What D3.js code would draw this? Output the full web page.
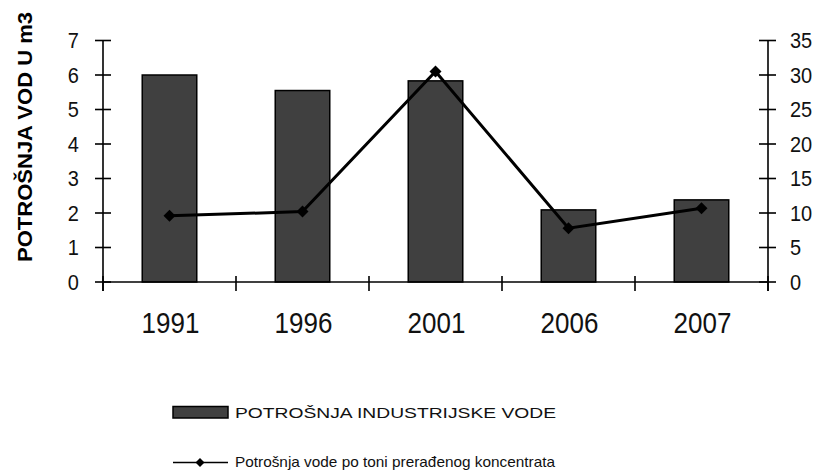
<!DOCTYPE html>
<html>
<head>
<meta charset="utf-8">
<script src="https://cdn.jsdelivr.net/npm/d3@7"></script>
<style>
  html, body { margin: 0; padding: 0; background: #fff; }
  svg { display: block; font-family: Arial, "Liberation Sans", sans-serif; }
</style>
</head>
<body>
<svg id="chart" width="818" height="473"></svg>
<script>
const years = ["1991", "1996", "2001", "2006", "2007"];
const industrialWater = [6.0, 5.55, 5.83, 2.09, 2.38];
const waterPerTon = [9.6, 10.2, 30.5, 7.8, 10.7];
const leftTicks = [0, 1, 2, 3, 4, 5, 6, 7];
const rightTicks = [0, 5, 10, 15, 20, 25, 30, 35];
const yTitle = "POTROŠNJA VOD U m3";
const barLegend = "POTROŠNJA INDUSTRIJSKE VODE";
const lineLegend = "Potrošnja vode po toni prerađenog koncentrata";

const svg = d3.select("#chart");
const pLeft = 103, pRight = 768, pTop = 40.5, pBottom = 282;
const sy = 1.13;

const xCat = d3.scaleBand().domain(years).range([pLeft, pRight]).padding(0);
const xBar = d3.scaleBand().domain(years).range([pLeft, pRight]).paddingInner(0.59).paddingOuter(0.295);
const yL = d3.scaleLinear().domain([0, 7]).range([pBottom, pTop]);
const yR = d3.scaleLinear().domain([0, 35]).range([pBottom, pTop]);

// bars
svg.append("g").selectAll("rect").data(years).join("rect")
  .attr("x", d => xBar(d))
  .attr("y", (d, i) => yL(industrialWater[i]))
  .attr("width", xBar.bandwidth())
  .attr("height", (d, i) => pBottom - yL(industrialWater[i]))
  .attr("fill", "#404040")
  .attr("stroke", "#000")
  .attr("stroke-width", 1.5);

// x axis line and ticks
const ax = svg.append("g").attr("stroke", "#000").attr("stroke-width", 1.6);
ax.append("line").attr("x1", pLeft).attr("x2", pRight).attr("y1", pBottom).attr("y2", pBottom);
const bounds = years.map(d => xCat(d)).concat([pRight]);
ax.selectAll("line.xt").data(bounds).join("line").attr("class", "xt")
  .attr("x1", d => d).attr("x2", d => d)
  .attr("y1", pBottom - 6).attr("y2", pBottom + 9);

// left axis
ax.append("line").attr("x1", pLeft).attr("x2", pLeft).attr("y1", yL(7)).attr("y2", pBottom + 9);
ax.selectAll("line.lt").data(leftTicks).join("line").attr("class", "lt")
  .attr("x1", pLeft - 8).attr("x2", pLeft + 8)
  .attr("y1", d => yL(d)).attr("y2", d => yL(d));
// right axis
ax.append("line").attr("x1", pRight).attr("x2", pRight).attr("y1", yR(35)).attr("y2", pBottom + 9);
ax.selectAll("line.rt").data(rightTicks).join("line").attr("class", "rt")
  .attr("x1", pRight - 9).attr("x2", pRight + 8)
  .attr("y1", d => yR(d)).attr("y2", d => yR(d));

// tick labels
svg.append("g").selectAll("text").data(leftTicks).join("text")
  .attr("transform", d => `translate(79,${yL(d) + 7.5}) scale(1,1.09)`)
  .attr("text-anchor", "end")
  .attr("font-size", 20)
  .attr("fill", "#111")
  .text(d => d);
svg.append("g").selectAll("text").data(rightTicks).join("text")
  .attr("transform", d => `translate(790,${yR(d) + 7.5}) scale(1,1.09)`)
  .attr("text-anchor", "start")
  .attr("font-size", 20)
  .attr("fill", "#111")
  .text(d => d);
svg.append("g").selectAll("text").data(years).join("text")
  .attr("transform", d => `translate(${xCat(d) + xCat.bandwidth() / 2 + 1},333) scale(1,1.14)`)
  .attr("text-anchor", "middle")
  .attr("font-size", 26)
  .attr("fill", "#111")
  .text(d => d);

// y title
svg.append("text")
  .attr("transform", `translate(32,137) rotate(-90) scale(${sy},1)`)
  .attr("text-anchor", "middle")
  .attr("font-size", 19.5)
  .attr("font-weight", "bold")
  .attr("fill", "#000")
  .text(yTitle);

// line
const line = d3.line().x((d, i) => xCat(years[i]) + xCat.bandwidth() / 2).y(d => yR(d));
svg.append("path").datum(waterPerTon)
  .attr("d", line)
  .attr("fill", "none")
  .attr("stroke", "#000")
  .attr("stroke-width", 3);
const diamond = d3.symbol().type(d3.symbolSquare).size(72);
svg.append("g").selectAll("path").data(waterPerTon).join("path")
  .attr("transform", (d, i) => `translate(${xCat(years[i]) + xCat.bandwidth() / 2},${yR(d)}) rotate(45)`)
  .attr("d", diamond)
  .attr("fill", "#000");

// legend
const lg = svg.append("g");
lg.append("rect").attr("x", 173).attr("y", 406.5).attr("width", 55).attr("height", 11.5)
  .attr("fill", "#404040").attr("stroke", "#000").attr("stroke-width", 1.5);
lg.append("text").attr("x", 235).attr("y", 418).attr("font-size", 15)
  .attr("textLength", 321).attr("lengthAdjust", "spacingAndGlyphs")
  .attr("fill", "#111").text(barLegend);
lg.append("line").attr("x1", 173).attr("x2", 228).attr("y1", 462.5).attr("y2", 462.5)
  .attr("stroke", "#000").attr("stroke-width", 1.5);
lg.append("path").attr("transform", "translate(200,462.5) rotate(45)")
  .attr("d", d3.symbol().type(d3.symbolSquare).size(40)).attr("fill", "#000");
lg.append("text").attr("x", 235).attr("y", 467).attr("font-size", 15)
  .attr("textLength", 320).attr("lengthAdjust", "spacingAndGlyphs")
  .attr("fill", "#111").text(lineLegend);
</script>
</body>
</html>
